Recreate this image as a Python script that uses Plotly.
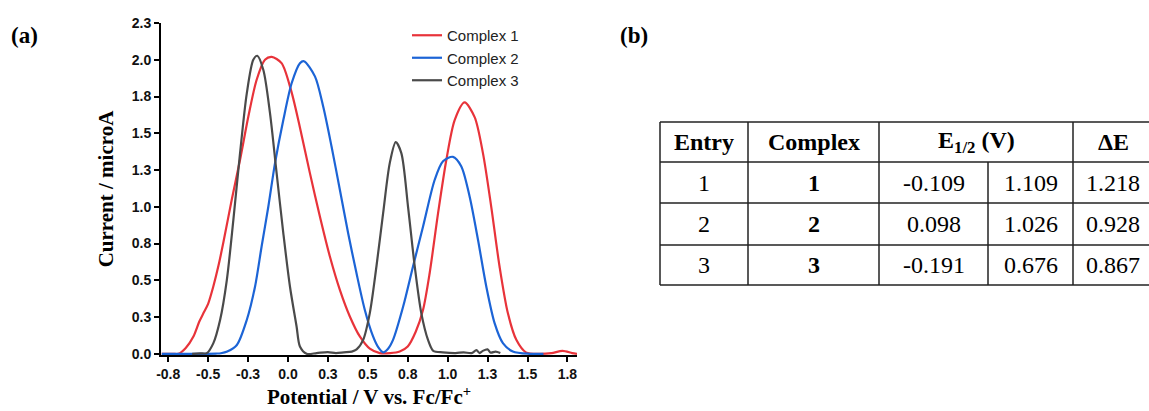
import plotly.graph_objects as go

# ---------------- data ----------------
c1_x = [-0.79, -0.72, -0.686, -0.64, -0.592, -0.555, -0.529, -0.50, -0.467, -0.435, -0.404,
        -0.352, -0.30, -0.248, -0.196, -0.144, -0.102, -0.04, 0.02, 0.075, 0.1375, 0.2, 0.2625,
        0.325, 0.3875, 0.45, 0.5125, 0.575, 0.64, 0.70, 0.75, 0.80, 0.846, 0.8875, 0.94, 0.992,
        1.044, 1.106, 1.169, 1.221, 1.273, 1.325, 1.377, 1.43, 1.49, 1.575, 1.65, 1.72, 1.78, 1.81]
c1_y = [0.0, 0.0, 0.0, 0.04, 0.118, 0.22, 0.277, 0.34, 0.46, 0.60, 0.76,
        1.048, 1.32, 1.614, 1.864, 2.0, 2.02, 1.977, 1.79, 1.54, 1.229, 0.934, 0.662,
        0.435, 0.254, 0.118, 0.035, 0.005, 0.005, 0.016, 0.05, 0.15, 0.30, 0.55, 0.957, 1.32,
        1.59, 1.71, 1.61, 1.365, 1.0, 0.594, 0.277, 0.095, 0.01, 0.0, 0.005, 0.02, 0.005, 0.0]

c2_x = [-0.79, -0.6, -0.45, -0.42, -0.38, -0.32, -0.258, -0.206, -0.165, -0.123, -0.081, -0.029,
        0.023, 0.075, 0.10, 0.169, 0.221, 0.273, 0.325, 0.377, 0.429, 0.481, 0.533, 0.565, 0.596,
        0.627, 0.658, 0.721, 0.783, 0.846, 0.919, 0.971, 1.033, 1.085, 1.1375, 1.19, 1.242, 1.294,
        1.346, 1.408, 1.5125, 1.6]
c2_y = [0.0, 0.0, 0.002, 0.004, 0.015, 0.06, 0.23, 0.458, 0.73, 1.0, 1.297, 1.59,
        1.84, 1.977, 1.99, 1.887, 1.68, 1.41, 1.116, 0.82, 0.549, 0.3, 0.118, 0.045, 0.01,
        0.035, 0.095, 0.32, 0.594, 0.866, 1.184, 1.31, 1.34, 1.276, 1.07, 0.776, 0.458, 0.209,
        0.073, 0.016, 0.0, 0.0]

c3_x = [-0.60, -0.55, -0.508, -0.467, -0.425, -0.383, -0.342, -0.30, -0.258, -0.217, -0.192,
        -0.154, -0.1125, -0.071, -0.029, 0.0125, 0.054, 0.075, 0.117, 0.18, 0.25, 0.3, 0.35, 0.40,
        0.43, 0.471, 0.5125, 0.554, 0.596, 0.6375, 0.675, 0.71, 0.752, 0.794, 0.835, 0.877, 0.91,
        0.97, 1.05, 1.1, 1.15, 1.18, 1.2, 1.22, 1.25, 1.27, 1.3, 1.33]
c3_y = [0.0, 0.003, 0.005, 0.073, 0.23, 0.5, 0.91, 1.365, 1.77, 2.0, 2.027,
        1.93, 1.637, 1.229, 0.82, 0.458, 0.186, 0.05, 0.0, 0.005, 0.012, 0.005, 0.01, 0.015,
        0.03, 0.095, 0.277, 0.594, 0.957, 1.297, 1.44, 1.365, 1.0, 0.594, 0.277, 0.095, 0.02,
        0.01, 0.005, 0.01, 0.005, 0.025, 0.005, 0.02, 0.03, 0.008, 0.015, 0.005]

series_names = ["Complex 1", "Complex 2", "Complex 3"]
series_colors = ["#e8333a", "#1c64d6", "#4a4a4a"]

x_tickvals = [-0.75, -0.5, -0.25, 0.0, 0.25, 0.5, 0.75, 1.0, 1.25, 1.5, 1.75]
x_ticktext = ["-0.8", "-0.5", "-0.3", "0.0", "0.3", "0.5", "0.8", "1.0", "1.3", "1.5", "1.8"]
y_tickvals = [0.0, 0.25, 0.5, 0.75, 1.0, 1.25, 1.5, 1.75, 2.0, 2.25]
y_ticktext = ["0.0", "0.3", "0.5", "0.8", "1.0", "1.3", "1.5", "1.8", "2.0", "2.3"]

# table data
table_header = ["Entry", "Complex", "E<sub>1/2</sub> (V)", "ΔE"]
entries = ["1", "2", "3"]
complexes = ["1", "2", "3"]
e_half_1 = ["-0.109", "0.098", "-0.191"]
e_half_2 = ["1.109", "1.026", "0.676"]
delta_e = ["1.218", "0.928", "0.867"]

# ---------------- layout geometry (pixels) ----------------
W, H = 1149, 411
L, R, T, B = 161, 577, 23, 355

def px_x(p):
    return (p - L) / (R - L)

def px_y(p):
    return (B - p) / (B - T)

fig = go.Figure()
for xs, ys, name, col in zip([c1_x, c2_x, c3_x], [c1_y, c2_y, c3_y], series_names, series_colors):
    fig.add_trace(go.Scatter(x=xs, y=ys, mode="lines", name=name, legendgroup=name,
                             line=dict(color=col, width=2.2, shape="spline", smoothing=0.8)))

serif = "Liberation Serif, Times New Roman, serif"
sans = "Liberation Sans, Arial, sans-serif"

fig.update_layout(
    width=W, height=H,
    margin=dict(l=L, r=W - R, t=T, b=H - B, autoexpand=False),
    paper_bgcolor="white", plot_bgcolor="white",
    showlegend=True,
    legend=dict(x=px_x(407), y=px_y(19), xanchor="left", yanchor="top",
                bgcolor="rgba(0,0,0,0)", font=dict(family=sans, size=15, color="#222"),
                tracegroupgap=0, itemwidth=30),
    xaxis=dict(range=[-0.795, 1.81], tickvals=x_tickvals, ticktext=x_ticktext,
               showgrid=False, zeroline=False, showline=True, linecolor="black", linewidth=2,
               ticks="outside", ticklen=5, tickwidth=2, tickcolor="black",
               tickfont=dict(family=sans, size=14, color="#111", weight="bold"),
               title=dict(text="<b>Potential / V vs. Fc/Fc<sup>+</sup></b>",
                          font=dict(family=serif, size=21, color="black"), standoff=9)),
    yaxis=dict(range=[-0.008, 2.25], tickvals=y_tickvals, ticktext=y_ticktext,
               showgrid=False, zeroline=False, showline=True, linecolor="black", linewidth=2,
               ticks="outside", ticklen=5, tickwidth=2, tickcolor="black",
               tickfont=dict(family=sans, size=14, color="#111", weight="bold"),
               title=dict(text="<b>Current / microA</b>",
                          font=dict(family=serif, size=21, color="black"), standoff=12)),
)

# panel labels
fig.add_annotation(x=px_x(9), y=px_y(35), xref="paper", yref="paper", xanchor="left",
                   yanchor="middle", text="<b>(a)</b>", showarrow=False,
                   font=dict(family=serif, size=23, color="black"))
fig.add_annotation(x=px_x(618), y=px_y(35), xref="paper", yref="paper", xanchor="left",
                   yanchor="middle", text="<b>(b)</b>", showarrow=False,
                   font=dict(family=serif, size=23, color="black"))

# ---------------- table ----------------
col_edges = [660, 748, 879, 988, 1073, 1153]
row_edges = [122, 162, 203, 245, 285]
line_style = dict(color="#222", width=1.5)

for yy in row_edges:
    fig.add_shape(type="line", xref="paper", yref="paper",
                  x0=px_x(col_edges[0]), x1=px_x(col_edges[-1]), y0=px_y(yy), y1=px_y(yy),
                  line=line_style)
for j, xx in enumerate(col_edges[:-1]):
    y0 = row_edges[1] if j == 3 else row_edges[0]  # E1/2 header spans two columns
    fig.add_shape(type="line", xref="paper", yref="paper",
                  x0=px_x(xx), x1=px_x(xx), y0=px_y(y0), y1=px_y(row_edges[-1]), line=line_style)

def cell_center(c0, c1, r):
    return px_x((col_edges[c0] + col_edges[c1]) / 2), px_y((row_edges[r] + row_edges[r + 1]) / 2)

tfont = dict(family=serif, size=24, color="black")
header_spans = [(0, 1), (1, 2), (2, 4), (4, 5)]
for txt, (c0, c1) in zip(table_header, header_spans):
    cx, cy = cell_center(c0, c1, 0)
    fig.add_annotation(x=cx, y=cy, xref="paper", yref="paper", text="<b>" + txt + "</b>",
                       showarrow=False, xanchor="center", yanchor="middle", font=tfont)

columns = [entries, complexes, e_half_1, e_half_2, delta_e]
for c, col in enumerate(columns):
    for r, val in enumerate(col):
        cx, cy = cell_center(c, c + 1, r + 1)
        txt = "<b>" + val + "</b>" if c == 1 else val
        fig.add_annotation(x=cx, y=cy, xref="paper", yref="paper", text=txt,
                           showarrow=False, xanchor="center", yanchor="middle", font=tfont)

fig.write_html("out.html", config={"displayModeBar": False},
               post_script="document.body.style.margin='0';document.body.style.padding='0';")
